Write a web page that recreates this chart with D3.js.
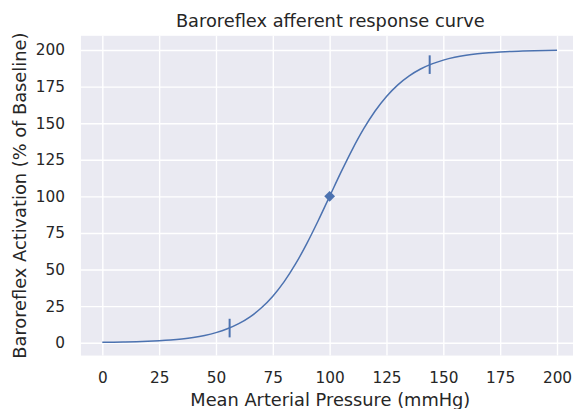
<!DOCTYPE html>
<html>
<head>
<meta charset="utf-8">
<script src="https://cdn.jsdelivr.net/npm/d3@7"></script>
<style>
  body { margin: 0; background: #fff; }
  svg text { font-family: "DejaVu Sans", sans-serif; fill: #262626; }
</style>
</head>
<body>
<div id="chart"></div>
<script>
// curve values (MAP in mmHg, activation in % of baseline)
var pressure = [0, 5, 10, 15, 20, 25, 30, 35, 40, 45, 50, 55, 60, 65, 70, 75, 80, 85, 90, 95,
  100, 105, 110, 115, 120, 125, 130, 135, 140, 145, 150, 155, 160, 165, 170, 175, 180, 185, 190, 195, 200];
var activation = [0.25, 0.35, 0.5, 0.69, 0.96, 1.34, 1.86, 2.59, 3.6, 4.99, 6.9, 9.49, 12.99, 17.68, 23.84, 31.78, 41.72, 53.79, 67.85, 83.48,
  100, 116.52, 132.15, 146.21, 158.28, 168.22, 176.16, 182.32, 187.01, 190.52, 193.1, 195.01, 196.4, 197.41, 198.14, 198.66, 199.04, 199.31, 199.51, 199.65, 199.75];

// threshold / saturation markers and the set point
var markerX = [56, 144];
var markerY = [10, 190];
var setPoint = [100, 100];

var xTicks = [0, 25, 50, 75, 100, 125, 150, 175, 200];
var yTicks = [0, 25, 50, 75, 100, 125, 150, 175, 200];

var W = 573, H = 409;
var svg = d3.select("#chart").append("svg")
  .attr("width", W).attr("height", H);

// scales
var x = d3.scaleLinear().domain([0, 200]).range([102.3, 557]);
var y = d3.scaleLinear().domain([0, 200]).range([342.7, 50]);

var pLeft = x(-9.4), pRight = x(210), pTop = y(209.7), pBottom = y(-8.8);

// plot background
svg.append("rect")
  .attr("x", pLeft).attr("y", pTop)
  .attr("width", pRight - pLeft).attr("height", pBottom - pTop)
  .attr("fill", "#EAEAF2");

// grid lines
svg.append("g")
  .attr("transform", "translate(0," + pBottom + ")")
  .call(d3.axisBottom(x).tickValues(xTicks).tickSize(-(pBottom - pTop)).tickFormat(""))
  .call(function(g) { g.select(".domain").remove(); })
  .selectAll("line").attr("stroke", "#fff").attr("stroke-width", 1.4);

svg.append("g")
  .attr("transform", "translate(" + pLeft + ",0)")
  .call(d3.axisLeft(y).tickValues(yTicks).tickSize(-(pRight - pLeft)).tickFormat(""))
  .call(function(g) { g.select(".domain").remove(); })
  .selectAll("line").attr("stroke", "#fff").attr("stroke-width", 1.4);

// tick labels
var xAxis = svg.append("g")
  .attr("transform", "translate(0," + pBottom + ")")
  .call(d3.axisBottom(x).tickValues(xTicks).tickSize(0).tickPadding(17));
xAxis.select(".domain").remove();
xAxis.selectAll("text").style("font-size", "15.3px").attr("fill", "#262626")
  .style("font-family", "DejaVu Sans");

var yAxis = svg.append("g")
  .attr("transform", "translate(" + pLeft + ",0)")
  .call(d3.axisLeft(y).tickValues(yTicks).tickSize(0).tickPadding(16));
yAxis.select(".domain").remove();
yAxis.selectAll("text").style("font-size", "15.3px").attr("fill", "#262626")
  .style("font-family", "DejaVu Sans");

// the curve
var pts = pressure.map(function(p, i) { return [p, activation[i]]; });
var line = d3.line()
  .x(function(d) { return x(d[0]); })
  .y(function(d) { return y(d[1]); })
  .curve(d3.curveMonotoneX);

svg.append("path")
  .datum(pts)
  .attr("d", line)
  .attr("fill", "none")
  .attr("stroke", "#4C72B0")
  .attr("stroke-width", 1.5);

// vertical bar markers
svg.selectAll(".vbar")
  .data(markerX)
  .enter().append("line")
  .attr("class", "vbar")
  .attr("x1", function(d) { return x(d); })
  .attr("x2", function(d) { return x(d); })
  .attr("y1", function(d, i) { return y(markerY[i]) - 9.3; })
  .attr("y2", function(d, i) { return y(markerY[i]) + 9.3; })
  .attr("stroke", "#4C72B0")
  .attr("stroke-width", 2);

// diamond at the set point
svg.append("path")
  .attr("d", d3.symbol().type(d3.symbolSquare).size(58)())
  .attr("transform", "translate(" + x(setPoint[0]) + "," + y(setPoint[1]) + ") rotate(45)")
  .attr("fill", "#4C72B0");

// title
svg.append("text")
  .attr("x", (pLeft + pRight) / 2)
  .attr("y", 27)
  .attr("text-anchor", "middle")
  .style("font-size", "17.8px")
  .text("Baroreflex afferent response curve");

// axis labels
svg.append("text")
  .attr("x", (pLeft + pRight) / 2)
  .attr("y", 406.3)
  .attr("text-anchor", "middle")
  .style("font-size", "17.8px")
  .text("Mean Arterial Pressure (mmHg)");

svg.append("text")
  .attr("transform", "translate(26," + ((pTop + pBottom) / 2) + ") rotate(-90)")
  .attr("text-anchor", "middle")
  .style("font-size", "17.8px")
  .text("Baroreflex Activation (% of Baseline)");
</script>
</body>
</html>
